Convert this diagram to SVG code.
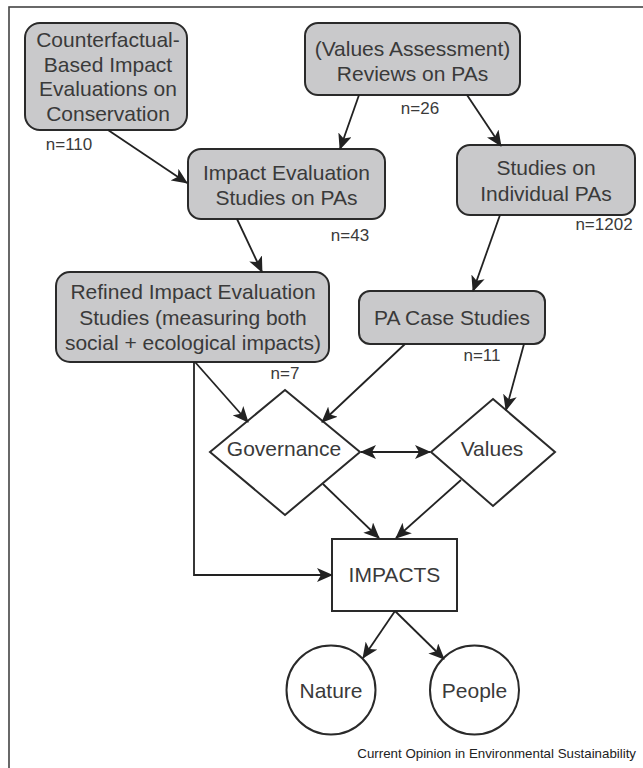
<svg xmlns="http://www.w3.org/2000/svg" width="643" height="768" viewBox="0 0 643 768">
<defs>
<marker id="ah" markerUnits="userSpaceOnUse" markerWidth="16" markerHeight="14" refX="15" refY="7" orient="auto-start-reverse" viewBox="0 0 16 14">
<path d="M0,0 L16,7 L0,14 L4,7 Z" fill="#222"/>
</marker>
<style>
.box{fill:#c9c9cb;stroke:#2a2a2a;stroke-width:2}
.plain{fill:#fff;stroke:#2a2a2a;stroke-width:2}
.t{font-family:"Liberation Sans",Arial,sans-serif;font-size:21px;fill:#3a3a3a;text-anchor:middle}
.n{font-family:"Liberation Sans",Arial,sans-serif;font-size:17px;fill:#3a3a3a;text-anchor:middle}
.c{fill:none;stroke:#222;stroke-width:1.8}
.a{marker-end:url(#ah)}
</style>
</defs>
<rect x="9" y="7" width="700" height="800" fill="#fff" stroke="#444" stroke-width="1.6"/>

<g id="counterfactual">
<rect class="box" x="25" y="23" width="162" height="107" rx="15"/>
<text class="t" x="108" y="47">Counterfactual-</text>
<text class="t" x="108" y="71.7">Based Impact</text>
<text class="t" x="108" y="96.4">Evaluations on</text>
<text class="t" x="108" y="121">Conservation</text>
<text class="n" x="69" y="150">n=110</text>
</g>

<g id="reviews">
<rect class="box" x="305" y="23" width="215" height="72" rx="13"/>
<text class="t" x="412.5" y="56">(Values Assessment)</text>
<text class="t" x="412.5" y="80.5">Reviews on PAs</text>
<text class="n" x="420" y="114">n=26</text>
</g>

<g id="impact-eval">
<rect class="box" x="188" y="149" width="197" height="70" rx="13"/>
<text class="t" x="286.5" y="180">Impact Evaluation</text>
<text class="t" x="286.5" y="205">Studies on PAs</text>
<text class="n" x="350" y="241">n=43</text>
</g>

<g id="individual">
<rect class="box" x="457" y="145" width="178" height="70" rx="13"/>
<text class="t" x="546" y="175">Studies on</text>
<text class="t" x="546" y="201">Individual PAs</text>
<text class="n" x="604" y="230">n=1202</text>
</g>

<g id="refined">
<rect class="box" x="56" y="272" width="273" height="90" rx="14"/>
<text class="t" x="193" y="299.3">Refined Impact Evaluation</text>
<text class="t" x="193" y="324.5">Studies (measuring both</text>
<text class="t" x="193" y="350">social + ecological impacts)</text>
<text class="n" x="285" y="379">n=7</text>
</g>

<g id="case-studies">
<rect class="box" x="359" y="291" width="186" height="53" rx="11"/>
<text class="t" x="452" y="324.5">PA Case Studies</text>
<text class="n" x="482" y="361">n=11</text>
</g>

<g id="governance">
<polygon class="plain" points="285,390 360,452 285,515 210,452"/>
<text class="t" x="284" y="455.5">Governance</text>
</g>

<g id="values">
<polygon class="plain" points="493,399 555,452 493,506 431,452"/>
<text class="t" x="492" y="455.5">Values</text>
</g>

<g id="impacts">
<rect class="plain" x="332" y="539" width="125" height="72"/>
<text class="t" x="394.5" y="582">IMPACTS</text>
</g>

<g id="nature">
<circle class="plain" cx="331" cy="690" r="44.5"/>
<text class="t" x="331" y="697.5">Nature</text>
</g>

<g id="people">
<circle class="plain" cx="474.5" cy="690" r="44.5"/>
<text class="t" x="474.5" y="697.5">People</text>
</g>

<g id="connectors">
<line class="c a" x1="108" y1="130" x2="187" y2="183"/>
<line class="c a" x1="359" y1="95" x2="340" y2="149"/>
<line class="c a" x1="467" y1="95" x2="501" y2="146"/>
<line class="c a" x1="237" y1="219" x2="262" y2="272"/>
<line class="c a" x1="500" y1="215" x2="473" y2="291"/>
<line class="c a" x1="195" y1="362" x2="248" y2="422"/>
<line class="c a" x1="405" y1="344" x2="322" y2="422"/>
<line class="c a" x1="524" y1="344" x2="506" y2="410"/>
<line class="c a" x1="361" y1="452" x2="430" y2="452" marker-start="url(#ah)"/>
<line class="c a" x1="323" y1="484" x2="379" y2="538"/>
<line class="c a" x1="461" y1="480" x2="396" y2="538"/>
<polyline class="c a" points="194,362 194,575 332,575"/>
<line class="c a" x1="395" y1="611" x2="363" y2="658"/>
<line class="c a" x1="395" y1="611" x2="444" y2="659"/>
</g>

<text x="636" y="758" font-family="'Liberation Sans',Arial,sans-serif" font-size="13.3" fill="#222" text-anchor="end">Current Opinion in Environmental Sustainability</text>
</svg>
